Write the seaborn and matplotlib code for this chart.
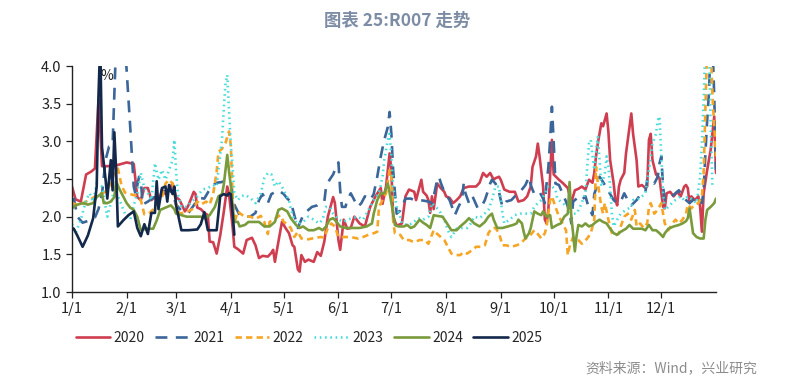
"""
R007 走势: daily R007 by day of year, one line per year 2020-2025.
"""

import matplotlib

matplotlib.use("Agg")
import matplotlib.pyplot as plt
import pandas as pd
import seaborn as sns

# ---- data (day of year, rate in %) ----
DAYS_2020 = [0, 2, 5, 8, 11, 13, 15, 16, 17, 20, 25, 31, 35, 37, 39, 41, 43, 45, 47, 49,
             51, 53, 55, 57, 59, 61, 64, 66, 69, 70, 71, 73, 75, 77, 78, 80, 82, 84, 86, 88,
             89, 91, 92, 94, 97, 99, 102, 104, 106, 108, 111, 113, 114, 115, 117, 119, 121, 123, 125, 126,
             128, 129, 130, 132, 134, 136, 137, 139, 141, 143, 145, 148, 149, 151, 152, 154, 156, 158, 160, 163,
             166, 169, 172, 175, 176, 178, 180, 181, 182, 184, 187, 189, 191, 194, 195, 198, 199, 201, 202, 203,
             204, 205, 207, 209, 211, 212, 214, 216, 218, 220, 222, 225, 229, 231, 233, 235, 237, 239, 240, 242,
             243, 245, 248, 251, 253, 256, 258, 260, 261, 263, 264, 265, 267, 268, 269, 270, 272, 273, 276, 278,
             281, 283, 284, 285, 287, 289, 291, 293, 295, 296, 297, 298, 300, 301, 303, 304, 305, 307, 308, 309,
             310, 311, 313, 314, 316, 317, 318, 320, 321, 323, 325, 326, 327, 328, 329, 331, 333, 335, 336, 337,
             339, 341, 343, 345, 347, 348, 349, 350, 351, 353, 355, 356, 357, 358, 360, 362, 364, 365]
R007_2020 = [2.40, 2.23, 2.20, 2.56, 2.60, 2.64, 3.55, 3.16, 2.67, 2.67, 2.68, 2.72, 2.70, 2.26, 2.22, 2.38, 2.38, 2.22, 2.26, 2.18,
             2.36, 2.30, 2.36, 2.44, 2.26, 2.22, 2.07, 2.15, 2.33, 2.30, 2.12, 2.10, 2.05, 2.02, 1.67, 1.66, 1.51, 1.75, 2.06, 2.40,
             2.30, 1.87, 1.60, 1.57, 1.51, 1.69, 1.72, 1.62, 1.45, 1.48, 1.47, 1.52, 1.56, 1.40, 1.67, 1.93, 1.85, 1.78, 1.62, 1.60,
             1.30, 1.27, 1.49, 1.40, 1.43, 1.41, 1.40, 1.53, 1.48, 1.67, 2.00, 2.26, 2.18, 1.69, 1.56, 1.96, 1.84, 1.85, 2.00, 1.91,
             1.87, 2.13, 2.27, 2.38, 2.17, 2.40, 2.84, 2.62, 2.00, 1.88, 1.91, 2.27, 2.36, 2.33, 2.22, 2.49, 2.33, 2.28, 2.22, 2.05,
             2.27, 2.10, 2.44, 2.38, 2.33, 2.27, 2.25, 2.18, 2.22, 2.27, 2.38, 2.40, 2.40, 2.45, 2.58, 2.53, 2.58, 2.49, 2.51, 2.53,
             2.49, 2.36, 2.33, 2.33, 2.20, 2.22, 2.27, 2.40, 2.66, 2.80, 2.97, 2.80, 2.40, 1.96, 1.91, 2.10, 3.02, 2.56, 2.49, 2.45,
             2.38, 2.18, 2.27, 2.35, 2.37, 2.40, 2.36, 2.49, 2.45, 2.58, 2.80, 2.97, 3.24, 3.20, 3.37, 3.13, 2.75, 2.44, 2.22, 2.15,
             2.40, 2.49, 2.58, 2.84, 3.19, 3.37, 3.10, 2.75, 2.40, 2.42, 2.38, 2.40, 3.02, 3.10, 2.75, 2.56, 2.51, 2.13, 2.11, 2.31,
             2.33, 2.27, 2.33, 2.27, 2.40, 2.42, 2.38, 2.18, 2.27, 2.22, 2.27, 2.13, 1.80, 2.31, 2.62, 2.89, 3.33, 2.58]

DAYS_2021 = [1, 3, 6, 10, 13, 15, 17, 19, 21, 23, 25, 27, 29, 30, 33, 35, 36, 38, 39, 40,
             43, 46, 48, 51, 55, 57, 59, 62, 66, 69, 72, 75, 79, 82, 85, 88, 90, 92, 95, 98,
             101, 104, 106, 108, 111, 113, 117, 120, 122, 124, 126, 128, 131, 133, 136, 139, 141, 143, 144, 146,
             148, 150, 151, 152, 153, 155, 156, 158, 160, 162, 164, 166, 168, 169, 171, 173, 175, 177, 179, 180,
             181, 182, 184, 186, 187, 189, 192, 194, 197, 200, 202, 204, 205, 206, 207, 208, 209, 211, 214, 216,
             217, 219, 221, 222, 223, 225, 227, 230, 232, 234, 236, 237, 238, 240, 242, 243, 244, 246, 249, 251,
             254, 257, 259, 260, 262, 265, 267, 268, 269, 270, 271, 272, 273, 274, 276, 278, 280, 282, 283, 284,
             286, 288, 291, 293, 295, 296, 298, 299, 301, 303, 305, 307, 309, 311, 313, 315, 317, 320, 322, 325,
             326, 328, 330, 332, 333, 334, 335, 336, 338, 340, 342, 344, 346, 348, 350, 352, 354, 355, 357, 358,
             359, 360, 361, 362, 363, 364, 365]
R007_2021 = [2.25, 2.00, 1.92, 1.95, 1.99, 2.10, 2.30, 2.75, 2.93, 2.95, 4.30, 4.60, 4.60, 4.30, 3.19, 2.40, 2.30, 2.53, 2.50, 2.16,
             2.20, 2.25, 2.28, 2.32, 2.36, 2.30, 2.16, 2.08, 2.05, 2.15, 2.25, 2.24, 2.40, 2.45, 2.46, 2.49, 2.45, 2.16, 2.02, 2.00,
             2.00, 2.05, 2.22, 2.30, 2.18, 2.30, 2.35, 2.30, 2.24, 2.20, 2.02, 1.85, 2.02, 2.07, 2.13, 2.15, 2.18, 2.20, 2.40, 2.49,
             2.56, 2.68, 2.72, 2.35, 2.13, 2.13, 2.22, 2.31, 2.22, 2.13, 2.18, 2.27, 2.25, 2.22, 2.30, 2.53, 2.80, 3.02, 3.19, 3.39,
             3.10, 2.62, 2.04, 2.08, 2.13, 2.24, 2.24, 2.22, 2.22, 2.21, 2.20, 2.18, 2.27, 2.38, 2.49, 2.53, 2.45, 2.33, 2.22, 2.09,
             2.02, 2.13, 2.22, 2.44, 2.31, 2.18, 2.27, 2.11, 2.13, 2.22, 2.36, 2.44, 2.49, 2.44, 2.33, 2.22, 2.13, 2.20, 2.22, 2.27,
             2.33, 2.42, 2.53, 2.42, 2.30, 2.33, 2.24, 2.18, 2.44, 2.66, 3.02, 3.46, 3.00, 2.44, 2.42, 2.31, 2.20, 2.07, 1.91, 2.20,
             2.24, 2.20, 2.27, 2.11, 2.02, 2.30, 2.44, 2.53, 2.46, 2.38, 2.30, 2.22, 2.18, 2.20, 2.31, 2.22, 2.15, 2.22, 2.29, 2.33,
             2.49, 2.49, 2.44, 2.53, 2.71, 2.80, 2.40, 2.22, 2.27, 2.27, 2.31, 2.35, 2.27, 2.22, 2.18, 2.22, 2.27, 2.27, 2.18, 2.35,
             2.84, 3.28, 3.64, 4.30, 4.30, 3.60, 2.62]

DAYS_2022 = [0, 4, 8, 12, 15, 18, 20, 22, 24, 26, 28, 30, 33, 36, 39, 41, 44, 47, 51, 53,
             55, 57, 59, 61, 65, 69, 71, 73, 76, 78, 80, 82, 83, 85, 87, 89, 90, 91, 92, 94,
             96, 98, 101, 104, 107, 109, 111, 112, 115, 118, 120, 122, 124, 126, 128, 130, 134, 138, 141, 143,
             145, 147, 149, 151, 155, 158, 162, 165, 168, 171, 173, 174, 176, 178, 180, 181, 182, 183, 186, 188,
             191, 194, 197, 200, 202, 205, 207, 209, 211, 213, 215, 217, 220, 222, 224, 227, 229, 232, 234, 236,
             238, 240, 242, 244, 246, 249, 252, 254, 257, 259, 262, 264, 266, 268, 269, 271, 272, 274, 276, 278,
             280, 281, 282, 284, 287, 289, 292, 294, 296, 297, 298, 300, 301, 302, 304, 306, 308, 310, 311, 313,
             315, 317, 319, 320, 322, 324, 326, 327, 328, 330, 332, 334, 335, 336, 338, 340, 342, 344, 346, 348,
             349, 351, 353, 355, 357, 358, 359, 360, 362, 363, 364, 365]
R007_2022 = [2.18, 2.15, 2.20, 2.25, 2.30, 2.32, 2.35, 2.45, 2.58, 2.64, 2.42, 2.32, 2.30, 2.28, 2.22, 2.03, 2.05, 2.12, 2.26, 2.44,
             2.49, 2.44, 2.16, 2.04, 2.06, 2.11, 2.20, 2.16, 2.20, 2.16, 2.30, 2.60, 2.86, 2.90, 2.98, 3.13, 2.95, 2.30, 1.92, 2.07,
             2.03, 2.00, 2.00, 1.97, 2.01, 1.93, 1.77, 1.93, 1.97, 2.02, 1.93, 1.90, 1.85, 1.73, 1.80, 1.71, 1.70, 1.72, 1.73, 1.72,
             1.85, 1.91, 1.87, 1.73, 1.73, 1.73, 1.71, 1.73, 1.76, 1.78, 1.80, 2.13, 2.22, 2.31, 2.62, 2.53, 1.95, 1.78, 1.76, 1.69,
             1.69, 1.66, 1.69, 1.69, 1.64, 1.82, 1.77, 1.73, 1.69, 1.60, 1.51, 1.49, 1.49, 1.53, 1.51, 1.56, 1.60, 1.60, 1.62, 1.78,
             1.85, 1.85, 1.78, 1.62, 1.62, 1.60, 1.62, 1.64, 1.71, 1.73, 1.82, 1.77, 1.71, 1.78, 1.87, 2.22, 2.27, 2.13, 2.00, 1.91,
             1.82, 1.49, 1.60, 1.73, 1.69, 1.64, 1.71, 1.78, 1.96, 2.66, 2.45, 2.13, 2.04, 2.18, 1.96, 1.78, 1.75, 1.78, 1.87, 2.00,
             2.04, 1.96, 2.09, 1.87, 1.91, 1.85, 1.91, 2.13, 2.18, 2.04, 2.09, 2.18, 2.04, 1.91, 1.82, 1.90, 1.96, 1.91, 1.96, 2.04,
             2.16, 2.11, 2.16, 2.18, 2.27, 2.58, 3.42, 4.30, 4.30, 3.60, 3.19, 2.80]

DAYS_2023 = [0, 2, 5, 8, 10, 12, 14, 17, 20, 22, 24, 27, 30, 33, 35, 37, 39, 41, 43, 45,
             47, 49, 51, 53, 55, 57, 58, 59, 60, 62, 65, 68, 71, 74, 77, 80, 82, 83, 85, 86,
             87, 88, 89, 90, 91, 92, 94, 96, 98, 101, 104, 107, 109, 111, 113, 115, 117, 119, 121, 123,
             124, 126, 128, 131, 134, 137, 140, 142, 144, 146, 148, 151, 154, 156, 159, 162, 165, 168, 171, 174,
             176, 177, 179, 180, 181, 182, 184, 186, 187, 190, 193, 196, 199, 202, 204, 206, 208, 211, 213, 215,
             218, 221, 224, 226, 228, 231, 233, 236, 238, 240, 242, 244, 245, 248, 251, 254, 257, 260, 262, 264,
             266, 268, 270, 272, 274, 275, 278, 281, 283, 286, 288, 291, 292, 293, 294, 296, 297, 298, 299, 300,
             302, 303, 304, 305, 306, 307, 309, 311, 314, 317, 318, 320, 323, 325, 327, 329, 331, 332, 333, 334,
             335, 336, 338, 340, 342, 345, 347, 349, 352, 354, 356, 357, 358, 359, 361, 362, 363]
R007_2023 = [1.90, 1.78, 1.96, 2.22, 2.31, 2.20, 2.44, 2.40, 2.00, 2.18, 2.36, 2.22, 2.04, 1.96, 2.15, 2.31, 2.58, 2.38, 2.31, 2.22,
             2.71, 2.49, 2.62, 2.49, 2.62, 2.75, 3.02, 2.60, 2.30, 2.13, 2.13, 2.20, 2.27, 2.36, 2.38, 2.42, 2.40, 2.62, 3.02, 3.42,
             3.77, 3.88, 3.40, 2.95, 2.67, 2.31, 2.22, 2.27, 2.29, 2.25, 2.18, 2.31, 2.51, 2.58, 2.56, 2.40, 2.47, 2.40, 2.30, 2.22,
             2.10, 1.96, 1.90, 1.93, 2.00, 1.96, 1.91, 1.96, 2.13, 2.13, 2.04, 1.96, 1.93, 1.96, 1.98, 2.00, 1.96, 2.09, 2.22, 2.31,
             2.53, 2.75, 3.02, 3.10, 2.80, 2.40, 2.13, 2.00, 1.91, 1.89, 1.91, 1.98, 1.96, 2.00, 2.18, 2.13, 2.09, 1.96, 1.82, 1.73,
             1.84, 1.85, 1.85, 1.91, 2.00, 1.98, 2.02, 2.09, 2.22, 2.40, 2.40, 2.04, 1.91, 1.96, 2.02, 2.04, 2.04, 2.04, 2.13, 2.18,
             2.22, 2.31, 2.40, 2.40, 2.36, 2.24, 2.18, 2.13, 2.04, 2.04, 2.13, 2.31, 2.66, 2.97, 3.02, 2.62, 2.88, 3.06, 2.75, 2.40,
             2.58, 2.80, 2.66, 2.40, 2.04, 1.87, 1.96, 2.04, 2.09, 2.13, 2.22, 2.22, 2.27, 2.31, 2.62, 2.97, 3.10, 3.28, 3.33, 2.80,
             2.31, 2.09, 2.13, 2.18, 2.22, 2.27, 2.22, 2.27, 2.22, 2.18, 2.53, 2.97, 3.55, 4.30, 4.30, 3.19, 2.40]

DAYS_2024 = [0, 2, 6, 9, 12, 14, 17, 18, 20, 22, 24, 25, 27, 29, 31, 33, 35, 37, 39, 42,
             44, 46, 48, 50, 53, 56, 58, 59, 62, 65, 69, 73, 75, 78, 81, 83, 85, 86, 88, 89,
             90, 91, 92, 94, 95, 98, 100, 103, 106, 109, 112, 115, 117, 119, 122, 124, 127, 129, 131, 134,
             137, 140, 142, 144, 146, 148, 150, 152, 155, 159, 163, 167, 170, 171, 173, 175, 177, 179, 180, 182,
             183, 185, 188, 190, 192, 194, 197, 199, 201, 203, 205, 207, 210, 212, 215, 218, 220, 223, 225, 228,
             231, 234, 236, 238, 239, 241, 244, 247, 250, 252, 253, 255, 256, 257, 259, 260, 262, 264, 266, 267,
             269, 271, 272, 275, 277, 279, 281, 282, 283, 284, 285, 286, 287, 289, 291, 293, 295, 297, 299, 301,
             303, 305, 307, 309, 311, 314, 316, 318, 321, 323, 325, 327, 329, 331, 333, 335, 336, 338, 341, 344,
             346, 348, 349, 350, 351, 352, 354, 356, 358, 359, 360, 362, 364, 365]
R007_2024 = [2.11, 2.15, 2.18, 2.16, 2.18, 2.26, 2.31, 2.18, 2.18, 2.20, 2.26, 2.47, 2.36, 2.27, 2.18, 2.12, 2.09, 2.00, 1.82, 1.84,
             1.84, 1.84, 1.95, 2.09, 2.12, 2.15, 2.10, 2.04, 2.02, 2.00, 2.00, 2.00, 1.98, 2.02, 2.13, 2.27, 2.30, 2.42, 2.82, 2.60,
             2.42, 2.16, 1.93, 1.93, 1.87, 1.89, 1.93, 1.93, 1.93, 1.87, 1.87, 1.93, 2.09, 2.11, 2.07, 1.98, 1.89, 1.85, 1.87, 1.82,
             1.82, 1.85, 1.82, 1.87, 1.96, 1.98, 1.93, 1.87, 1.85, 1.85, 1.85, 1.87, 1.91, 2.04, 2.22, 2.31, 2.31, 2.44, 2.32, 2.05,
             1.89, 1.87, 1.87, 1.89, 1.85, 1.87, 1.96, 1.92, 1.89, 1.85, 2.02, 2.01, 2.00, 1.93, 1.82, 1.82, 1.87, 1.93, 1.98, 1.91,
             1.87, 1.93, 2.00, 2.04, 1.96, 1.85, 1.85, 1.87, 1.89, 1.91, 1.96, 1.91, 1.80, 1.71, 1.78, 1.85, 2.07, 2.04, 2.02, 2.07,
             2.00, 2.02, 1.85, 1.89, 1.91, 2.00, 2.04, 2.46, 2.00, 1.78, 1.54, 1.75, 1.89, 1.87, 1.91, 1.87, 1.89, 1.93, 1.96, 1.93,
             1.91, 1.84, 1.78, 1.76, 1.80, 1.84, 1.89, 1.84, 1.84, 1.84, 1.82, 1.89, 1.82, 1.82, 1.78, 1.73, 1.78, 1.84, 1.87, 1.89,
             1.91, 1.94, 1.98, 2.11, 1.95, 1.78, 1.73, 1.71, 1.71, 1.96, 2.09, 2.13, 2.18, 2.24]

DAYS_2025 = [0, 1, 3, 6, 9, 12, 14, 15, 16, 17, 19, 20, 22, 23, 24, 25, 26, 29, 32, 35,
             37, 39, 41, 43, 45, 47, 48, 49, 51, 53, 54, 55, 57, 58, 59, 62, 66, 71, 73, 75,
             77, 82, 84, 86, 88, 89, 90, 91, 92]
R007_2025 = [1.85, 1.84, 1.75, 1.60, 1.75, 1.98, 2.40, 3.60, 4.30, 2.92, 2.50, 2.24, 2.75, 2.35, 3.12, 2.62, 1.87, 1.95, 2.02, 2.07,
             1.85, 1.74, 1.90, 1.77, 2.05, 2.05, 2.47, 2.10, 2.38, 2.40, 2.20, 2.42, 2.30, 2.40, 2.15, 1.82, 1.82, 1.83, 1.90, 2.06,
             1.82, 1.82, 2.27, 2.30, 2.28, 2.31, 2.30, 2.05, 1.76]

YEARS = ["2020", "2021", "2022", "2023", "2024", "2025"]
MONTH_STARTS = [0, 31, 59, 90, 120, 151, 181, 212, 243, 273, 304, 334]
MONTH_LABELS = ["1/1", "2/1", "3/1", "4/1", "5/1", "6/1",
                "7/1", "8/1", "9/1", "10/1", "11/1", "12/1"]
Y_TICKS = [1.0, 1.5, 2.0, 2.5, 3.0, 3.5, 4.0]

COLORS = {
    "2020": "#cf3e50",
    "2021": "#3b6699",
    "2022": "#f6a524",
    "2023": "#47dcdc",
    "2024": "#799b3b",
    "2025": "#13284a",
}
LINESTYLES = {
    "2020": "-",
    "2021": (0, (4.5, 3.2)),
    "2022": (0, (2.4, 1.6)),
    "2023": (0, (0.6, 1.4)),
    "2024": "-",
    "2025": "-",
}


def build_frame():
    """Stack the per-year arrays into one long table."""
    parts = []
    series = [
        (DAYS_2020, R007_2020), (DAYS_2021, R007_2021), (DAYS_2022, R007_2022),
        (DAYS_2023, R007_2023), (DAYS_2024, R007_2024), (DAYS_2025, R007_2025),
    ]
    for year, (days, vals) in zip(YEARS, series):
        parts.append(pd.DataFrame({"day": days, "rate": vals, "year": year}))
    return pd.concat(parts, ignore_index=True)


def main():
    sns.set_style("ticks")
    plt.rcParams["font.family"] = ["Noto Sans CJK SC", "DejaVu Sans"]

    df = build_frame()

    fig = plt.figure(figsize=(7.95, 3.82), dpi=100)
    ax = fig.add_axes([72 / 795, 90 / 382, 644 / 795, 226 / 382])

    for year in YEARS:
        sub = df[df["year"] == year]
        sns.lineplot(
            data=sub, x="day", y="rate", ax=ax,
            color=COLORS[year], linewidth=1.9,
            linestyle=LINESTYLES[year], label=year,
            estimator=None, sort=False,
        )

    ax.set_xlim(0, 365)
    ax.set_ylim(1.0, 4.0)
    ax.set_xticks(MONTH_STARTS)
    ax.set_xticklabels(MONTH_LABELS)
    ax.set_yticks(Y_TICKS)
    ax.set_yticklabels([f"{v:.1f}" for v in Y_TICKS])
    ax.set_xlabel("")
    ax.set_ylabel("")
    ax.tick_params(axis="both", labelsize=10.5, colors="#222222", length=4, width=0.9)
    for side in ["top", "right"]:
        ax.spines[side].set_visible(False)
    for side in ["left", "bottom"]:
        ax.spines[side].set_color("#222222")
        ax.spines[side].set_linewidth(1.0)

    ax.text(0.045, 0.985, "%", transform=ax.transAxes, fontsize=10,
            ha="left", va="top", color="#222222")

    handles, labels = ax.get_legend_handles_labels()
    ax.legend(
        handles, labels, loc="upper left", bbox_to_anchor=(63 / 795, 1 - 318 / 382),
        bbox_transform=fig.transFigure, ncol=6, frameon=False, fontsize=10,
        handlelength=2.5, handletextpad=0.25, columnspacing=0.75,
    )

    fig.text(0.5, 1 - 21 / 382, "图表 25:R007 走势", ha="center", va="center",
             fontsize=12.5, fontweight="bold", color="#7d8ca5")
    fig.text(757 / 795, 1 - 368 / 382, "资料来源：Wind，兴业研究", ha="right",
             va="center", fontsize=10, color="#8c8c8c")

    fig.savefig("out.png", dpi=100)
    plt.close(fig)


if __name__ == "__main__":
    main()
